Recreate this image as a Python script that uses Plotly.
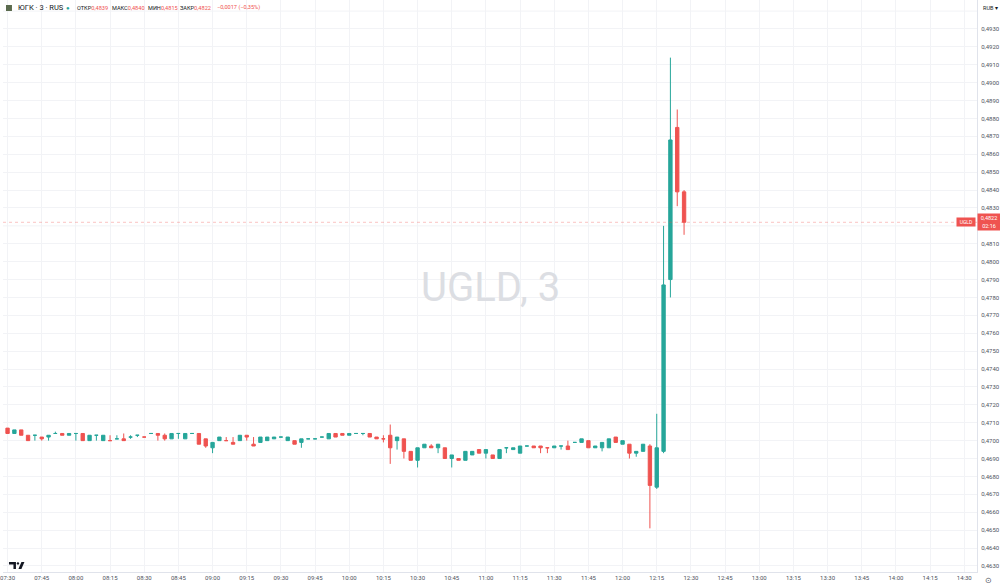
import pandas as pd
import plotly.graph_objects as go

# ---------------- data (3-minute candles, ЮГК / UGLD) ----------------
start_time = "2025-06-10 07:30"
n_candles = 100

opens = [0.4707, 0.4704, 0.4706, 0.4703, 0.4703, 0.4702, 0.4702, 0.4704, 0.4704, 0.4703,
         0.4704, 0.4704, 0.4700, 0.4703, 0.4700, 0.4700, 0.4701, 0.4701, 0.4702, 0.4703,
         0.4702, 0.4704, 0.4704, 0.4703, 0.4701, 0.4704, 0.4701, 0.4704, 0.4704, 0.4701,
         0.4696, 0.4700, 0.4700, 0.4699, 0.4700, 0.4703, 0.4698, 0.4699, 0.4700, 0.4701,
         0.4702, 0.4700, 0.4700, 0.4699, 0.4701, 0.4701, 0.4702, 0.4701, 0.4704, 0.4704,
         0.4703, 0.4704, 0.4704, 0.4704, 0.4702, 0.4701, 0.4703, 0.4700, 0.4701, 0.4694,
         0.4689, 0.4696, 0.4697, 0.4696, 0.4696, 0.4690, 0.4690, 0.4689, 0.4692, 0.4695,
         0.4693, 0.4692, 0.4690, 0.4696, 0.4695, 0.4693, 0.4697, 0.4697, 0.4697, 0.4696,
         0.4696, 0.4697, 0.4697, 0.4699, 0.4699, 0.4700, 0.4696, 0.4696, 0.4696, 0.4702,
         0.4698, 0.4698, 0.4693, 0.4694, 0.4697, 0.4674, 0.4694, 0.4790, 0.4875, 0.4839]
highs = [0.4707, 0.4706, 0.4706, 0.4703, 0.4703, 0.4702, 0.4703, 0.4705, 0.4704, 0.4704,
         0.4704, 0.4704, 0.4703, 0.4703, 0.4703, 0.4703, 0.4703, 0.4704, 0.4703, 0.4703,
         0.4702, 0.4704, 0.4704, 0.4704, 0.4704, 0.4704, 0.4704, 0.4704, 0.4704, 0.4701,
         0.4699, 0.4702, 0.4702, 0.4702, 0.4703, 0.4703, 0.4702, 0.4702, 0.4702, 0.4702,
         0.4702, 0.4702, 0.4700, 0.4701, 0.4701, 0.4701, 0.4702, 0.4704, 0.4704, 0.4704,
         0.4704, 0.4704, 0.4704, 0.4704, 0.4702, 0.4703, 0.4709, 0.4702, 0.4701, 0.4694,
         0.4696, 0.4698, 0.4698, 0.4698, 0.4696, 0.4692, 0.4690, 0.4694, 0.4694, 0.4695,
         0.4695, 0.4692, 0.4695, 0.4696, 0.4696, 0.4697, 0.4697, 0.4697, 0.4697, 0.4696,
         0.4697, 0.4697, 0.4700, 0.4699, 0.4701, 0.4700, 0.4697, 0.4699, 0.4701, 0.4702,
         0.4700, 0.4698, 0.4694, 0.4698, 0.4698, 0.4715, 0.4820, 0.4914, 0.4885, 0.4840]
lows = [0.4704, 0.4704, 0.4703, 0.4700, 0.4700, 0.4700, 0.4700, 0.4704, 0.4703, 0.4703,
        0.4700, 0.4700, 0.4700, 0.4700, 0.4700, 0.4700, 0.4701, 0.4700, 0.4701, 0.4702,
        0.4702, 0.4704, 0.4700, 0.4700, 0.4701, 0.4701, 0.4701, 0.4704, 0.4698, 0.4696,
        0.4693, 0.4700, 0.4700, 0.4698, 0.4700, 0.4700, 0.4697, 0.4699, 0.4700, 0.4701,
        0.4702, 0.4700, 0.4698, 0.4696, 0.4701, 0.4701, 0.4702, 0.4701, 0.4702, 0.4703,
        0.4703, 0.4704, 0.4703, 0.4702, 0.4701, 0.4699, 0.4687, 0.4695, 0.4690, 0.4689,
        0.4685, 0.4696, 0.4696, 0.4693, 0.4690, 0.4685, 0.4689, 0.4689, 0.4692, 0.4693,
        0.4690, 0.4690, 0.4690, 0.4693, 0.4695, 0.4693, 0.4697, 0.4696, 0.4693, 0.4693,
        0.4696, 0.4695, 0.4695, 0.4699, 0.4699, 0.4696, 0.4696, 0.4694, 0.4696, 0.4699,
        0.4698, 0.4690, 0.4691, 0.4694, 0.4651, 0.4673, 0.4693, 0.4780, 0.4831, 0.4815]
closes = [0.4704, 0.4706, 0.4703, 0.4700, 0.4703, 0.4701, 0.4703, 0.4704, 0.4703, 0.4704,
          0.4704, 0.4700, 0.4703, 0.4703, 0.4703, 0.4700, 0.4701, 0.4700, 0.4702, 0.4703,
          0.4702, 0.4704, 0.4703, 0.4701, 0.4704, 0.4704, 0.4704, 0.4704, 0.4698, 0.4697,
          0.4699, 0.4702, 0.4700, 0.4698, 0.4703, 0.4702, 0.4697, 0.4702, 0.4702, 0.4702,
          0.4702, 0.4702, 0.4698, 0.4701, 0.4701, 0.4701, 0.4702, 0.4704, 0.4702, 0.4703,
          0.4704, 0.4704, 0.4704, 0.4702, 0.4701, 0.4701, 0.4696, 0.4702, 0.4694, 0.4689,
          0.4696, 0.4698, 0.4696, 0.4698, 0.4690, 0.4692, 0.4689, 0.4694, 0.4694, 0.4693,
          0.4695, 0.4690, 0.4695, 0.4696, 0.4696, 0.4697, 0.4697, 0.4696, 0.4696, 0.4696,
          0.4697, 0.4697, 0.4695, 0.4699, 0.4701, 0.4696, 0.4697, 0.4699, 0.4701, 0.4699,
          0.4700, 0.4693, 0.4694, 0.4698, 0.4675, 0.4696, 0.4787, 0.4868, 0.4839, 0.4822]

last_price = 0.4822
last_label = "0,4822"
countdown = "02:16"
header_title = "ЮГК · 3 · RUS"
header_fields = [("ОТКР", "0,4839"), ("МАКС", "0,4840"), ("МИН", "0,4815"), ("ЗАКР", "0,4822")]
header_change = "−0,0017 (−0,35%)"
# price-scale labels shown (the 0,4820 label is hidden behind the last-price box)
y_tick_values = [round(0.4630 + 0.001 * k, 4) for k in range(31)]
y_tick_values = [v for v in y_tick_values if abs(v - 0.4820) > 1e-9]

times = pd.date_range(start_time, periods=n_candles, freq="3min")

UP = "#26a69a"
DOWN = "#ef5350"
TXT = "#131722"
GRID = "#f2f3f6"

# plot area in pixels (for paper coordinates of decorations)
W_PLOT, H_PLOT = 978, 572
def px(x):
    return x / W_PLOT
def py(y):
    return 1 - y / H_PLOT

fig = go.Figure(go.Candlestick(
    x=times, open=opens, high=highs, low=lows, close=closes,
    increasing=dict(line=dict(color=UP, width=1), fillcolor=UP),
    decreasing=dict(line=dict(color=DOWN, width=1), fillcolor=DOWN),
    whiskerwidth=0, hoverinfo="skip", showlegend=False,
))

fig.update_layout(
    width=1000, height=588,
    margin=dict(l=0, r=22, t=0, b=16),
    paper_bgcolor="white", plot_bgcolor="white",
    separators=", ",
    font=dict(family="Roboto", color=TXT),
    showlegend=False,
    hovermode=False,
    xaxis=dict(
        type="date",
        range=["2025-06-10 07:28:00", "2025-06-10 14:35:36"],
        rangeslider=dict(visible=False),
        tick0="2025-06-10 07:30", dtick=15 * 60 * 1000, tickformat="%H:%M",
        showgrid=True, gridcolor=GRID, gridwidth=1,
        showline=True, linecolor="#e0e3eb", linewidth=1,
        ticks="", tickfont=dict(size=6, color="#50535e"),
        ticklabelstandoff=0, ticklabeloverflow="allow",
        zeroline=False, fixedrange=True,
    ),
    yaxis=dict(
        side="right",
        range=[0.46266, 0.49462],
        tickmode="array", tickvals=y_tick_values, tickformat=".4f",
        showgrid=True, gridcolor=GRID, gridwidth=1,
        showline=True, linecolor="#e0e3eb", linewidth=1,
        ticks="", tickfont=dict(size=6, color="#50535e"),
        ticklabelstandoff=2,
        zeroline=False, fixedrange=True,
    ),
)

# grid lines for levels whose labels are hidden
for lvl in (0.4820, 0.4940):
    fig.add_shape(type="line", xref="paper", yref="y", x0=0, x1=1, y0=lvl, y1=lvl,
                  line=dict(color=GRID, width=1), layer="below")

# last price dotted line
fig.add_shape(type="line", xref="paper", yref="y", x0=0, x1=1,
              y0=last_price, y1=last_price,
              line=dict(color="rgba(239,83,80,0.35)", width=1, dash="dot"))

# watermark
fig.add_annotation(text="UGLD, 3", xref="paper", yref="paper", x=0.5, y=py(287),
                   showarrow=False, font=dict(size=40, color="#dcdee3", family="Roboto"),
                   xanchor="center", yanchor="middle")

# header
fig.add_annotation(text=header_title, xref="paper", yref="paper", x=px(13), y=py(8),
                   xanchor="left", yanchor="middle", showarrow=False,
                   font=dict(size=7.5, color=TXT, family="Roboto"))
fig.add_annotation(text="●", xref="paper", yref="paper", x=px(65), y=py(8),
                   xanchor="center", yanchor="middle", showarrow=False,
                   font=dict(size=6, color=UP))
field_x = [72, 107, 144, 176]
for (lab, val), x0 in zip(header_fields, field_x):
    fig.add_annotation(text=f"{lab}<span style='color:{DOWN}'>{val}</span>",
                       xref="paper", yref="paper", x=px(x0), y=py(8),
                       xanchor="left", yanchor="middle", showarrow=False,
                       font=dict(size=5.6, color=TXT, family="Roboto"))
fig.add_annotation(text=header_change, xref="paper", yref="paper", x=px(213), y=py(8),
                   xanchor="left", yanchor="middle", showarrow=False,
                   font=dict(size=5.6, color=DOWN, family="Roboto"))
# small ticker logo square
fig.add_shape(type="rect", xref="paper", yref="paper",
              x0=px(3), x1=px(9), y0=py(11), y1=py(5),
              fillcolor="#5b6b4e", line=dict(width=0))

# currency label and settings icon on the price scale
fig.add_annotation(text="RUB ▾", xref="paper", yref="paper", x=px(982), y=py(8),
                   xanchor="left", yanchor="middle", showarrow=False,
                   font=dict(size=5.5, color=TXT))
fig.add_annotation(text="⊙", xref="paper", yref="paper", x=px(990), y=py(580),
                   xanchor="center", yanchor="middle", showarrow=False,
                   font=dict(size=8, color="#50535e"))

# price labels at the last price
fig.add_annotation(text=f"{last_label}<br>{countdown}", xref="paper", yref="y",
                   x=1.0, y=last_price,
                   xanchor="left", yanchor="middle", showarrow=False,
                   bgcolor=DOWN, width=22, height=16, borderpad=0, align="center",
                   font=dict(size=5.5, color="white"))
fig.add_annotation(text="UGLD", xref="paper", yref="y", x=px(977), y=last_price,
                   xanchor="right", yanchor="middle", showarrow=False,
                   bgcolor=DOWN, width=18, height=8, borderpad=0, align="center",
                   font=dict(size=5, color="white"))

# TradingView logo (drawn)
fig.add_shape(type="path", xref="paper", yref="paper",
              path=(f"M {px(6)} {py(562)} L {px(13)} {py(562)} L {px(13)} {py(569)} "
                    f"L {px(10.5)} {py(569)} L {px(10.5)} {py(564.5)} L {px(6)} {py(564.5)} Z"),
              fillcolor="#131722", line=dict(width=0))
fig.add_shape(type="circle", xref="paper", yref="paper",
              x0=px(13.8), x1=px(16.2), y0=py(564.6), y1=py(562.2),
              fillcolor="#131722", line=dict(width=0))
fig.add_shape(type="path", xref="paper", yref="paper",
              path=(f"M {px(18.5)} {py(562)} L {px(21.5)} {py(562)} L {px(18.5)} {py(569)} "
                    f"L {px(15.5)} {py(569)} Z"),
              fillcolor="#131722", line=dict(width=0))

fig.write_html("out.html",
               config={"displayModeBar": False, "staticPlot": True},
               post_script="document.body.style.margin='0';document.body.style.padding='0';")
